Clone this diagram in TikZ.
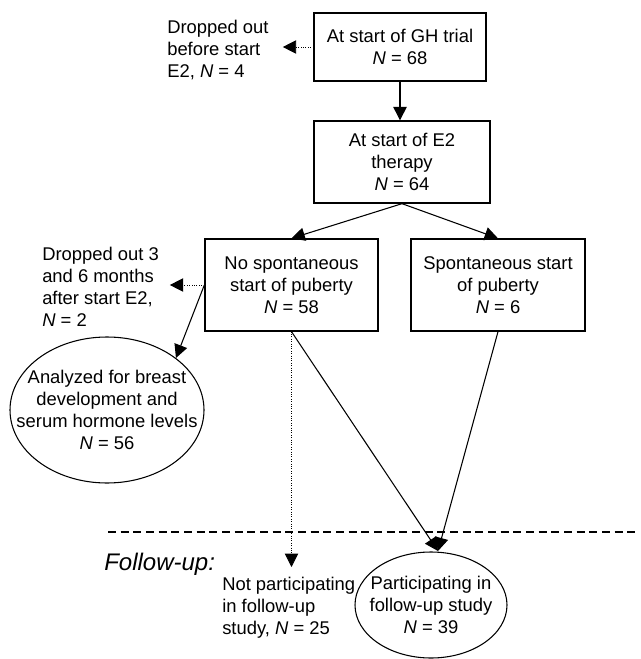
\documentclass[tikz,border=0pt]{standalone}
\usepackage{fontspec}
\setmainfont{Liberation Sans}
\usetikzlibrary{arrows.meta,shapes.geometric}

\begin{document}
\begin{tikzpicture}[x=0.75pt,y=-0.75pt,
    every node/.style={font=\fontsize{13.8}{16.5}\selectfont, align=center},
    box/.style={draw, line width=1pt, inner sep=0pt},
    oval/.style={draw, ellipse, line width=0.8pt, inner ysep=0pt},
    note/.style={align=left, inner sep=0pt, anchor=north west},
    arr/.style={line width=0.8pt, -{Triangle[length=10pt,width=10pt]}},
    dotarr/.style={arr, line width=0.6pt, dash pattern=on 0.6pt off 1.2pt},
    divider/.style={line width=1pt, dash pattern=on 6pt off 3.5pt}]
    \useasboundingbox (0,0) rectangle (640,659);

    \node[box, minimum width=129pt, minimum height=51pt] (gh) at (400,47) {At start of GH trial\\\textit{N} = 68};
    \node[box, minimum width=132pt, minimum height=61.5pt] (e2) at (402,162) {At start of E2\\therapy\\\textit{N} = 64};
    \node[box, minimum width=129.75pt, minimum height=69pt] (no) at (291.5,285) {No spontaneous\\start of puberty\\\textit{N} = 58};
    \node[box, minimum width=130.5pt, minimum height=69pt] (spont) at (498,285) {Spontaneous start\\of puberty\\\textit{N} = 6};
    \node[oval, inner xsep=-20pt, minimum width=145.5pt, minimum height=109.5pt] (ana) at (107,410) {Analyzed for breast\\development and\\serum hormone levels\\\textit{N} = 56};
    \node[oval, inner xsep=-10pt, minimum width=114pt, minimum height=79.5pt] (part) at (431,605) {Participating in\\follow-up study\\\textit{N} = 39};

    \node[note] (drop1) at (167,20) {Dropped out\\before start\\E2, \textit{N} = 4};
    \node[note] (drop2) at (42,247) {Dropped out 3\\and 6 months\\after start E2,\\\textit{N} = 2};
    \node[note] (notpart) at (222,577) {Not participating\\in follow-up\\study, \textit{N} = 25};
    \node[anchor=base west, inner sep=0pt, font=\fontsize{18}{20}\selectfont\itshape] (fu) at (104,570) {Follow-up:};

    \draw[arr] (gh.south) -- (gh.south |- e2.north);
    \draw[arr] (e2.south) -- (no.north);
    \draw[arr] (e2.south) -- (spont.north);
    \draw[dotarr, shorten >=10.5pt] (gh.west) -- (gh.west -| drop1.east);
    \draw[dotarr, shorten >=8pt] (no.west) -- (no.west -| drop2.east);
    \draw[arr] (no.west) -- (ana.north east);
    \draw[dotarr, shorten >=7.5pt] (no.south) -- (no.south |- notpart.north);

    \coordinate (meet) at (438,551);
    \draw[arr] (no.south) -- (meet);
    \draw[arr] (spont.south) -- (meet);

    \coordinate (dl) at (108,532);
    \coordinate (dr) at (640,532);
    \draw[divider] (dl) -- (dr);
\end{tikzpicture}
\end{document}
